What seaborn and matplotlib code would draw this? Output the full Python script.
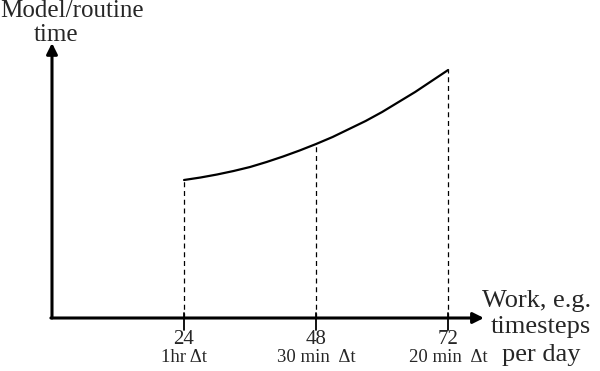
import matplotlib
matplotlib.use("Agg")
import matplotlib.pyplot as plt
import seaborn as sns
import pandas as pd

# --- data ---
work = [24, 27, 30, 33, 36, 39, 42, 45, 48, 51, 54, 57, 60, 63, 66, 69, 72]
model_time = [138, 140.5, 143.5, 147, 151, 156, 161.5, 167.5, 174,
              181, 189, 197, 206, 216, 226, 237, 248]
tick_pos = [24, 48, 72]
tick_num = ["24", "48", "72"]
tick_sub = ["1hr \u0394t", "30 min  \u0394t", "20 min  \u0394t"]

df = pd.DataFrame({"work": work, "time": model_time})

sns.set_theme(style="white")
plt.rcParams["font.family"] = ["Liberation Serif", "DejaVu Serif"]

fig = plt.figure(figsize=(6, 3.71), dpi=100)
ax = fig.add_axes([0, 0, 1, 1])
ax.set_xlim(-9.45, 99.6)
ax.set_ylim(-53, 318)
ax.axis("off")

# curve
sns.lineplot(data=df, x="work", y="time", ax=ax, color="black", lw=1.6)

# dashed drop lines + tick marks
for x in tick_pos:
    y = model_time[work.index(x)]
    ax.plot([x, x], [0, y], ls=(0, (4, 3)), color="black", lw=0.9)
    ax.plot([x, x], [-12, 5], color="black", lw=1.3)

# axes with arrows
arrow = dict(arrowstyle="-|>", color="black", lw=2.2, mutation_scale=16,
             shrinkA=0, shrinkB=0)
ax.annotate("", xy=(0, 275), xytext=(0, 0), arrowprops=arrow)
ax.annotate("", xy=(78.5, 0), xytext=(-0.2, 0), arrowprops=arrow)

# tick labels
for x, n, s in zip(tick_pos, tick_num, tick_sub):
    ax.text(x, -22, n, ha="center", va="center", fontsize=15)
    ax.text(x, -40, s, ha="center", va="center", fontsize=13.5)

# axis titles
ax.text(-9.45, 307, "Model/routine", ha="left", va="center", fontsize=18)
ax.text(0.7, 283, "time", ha="center", va="center", fontsize=18)
ax.text(88.0, 17, "Work, e.g.", ha="center", va="center", fontsize=19)
ax.text(88.9, -9, "timesteps", ha="center", va="center", fontsize=19)
ax.text(88.9, -37, "per day", ha="center", va="center", fontsize=19)

fig.savefig("out.png", dpi=100)
